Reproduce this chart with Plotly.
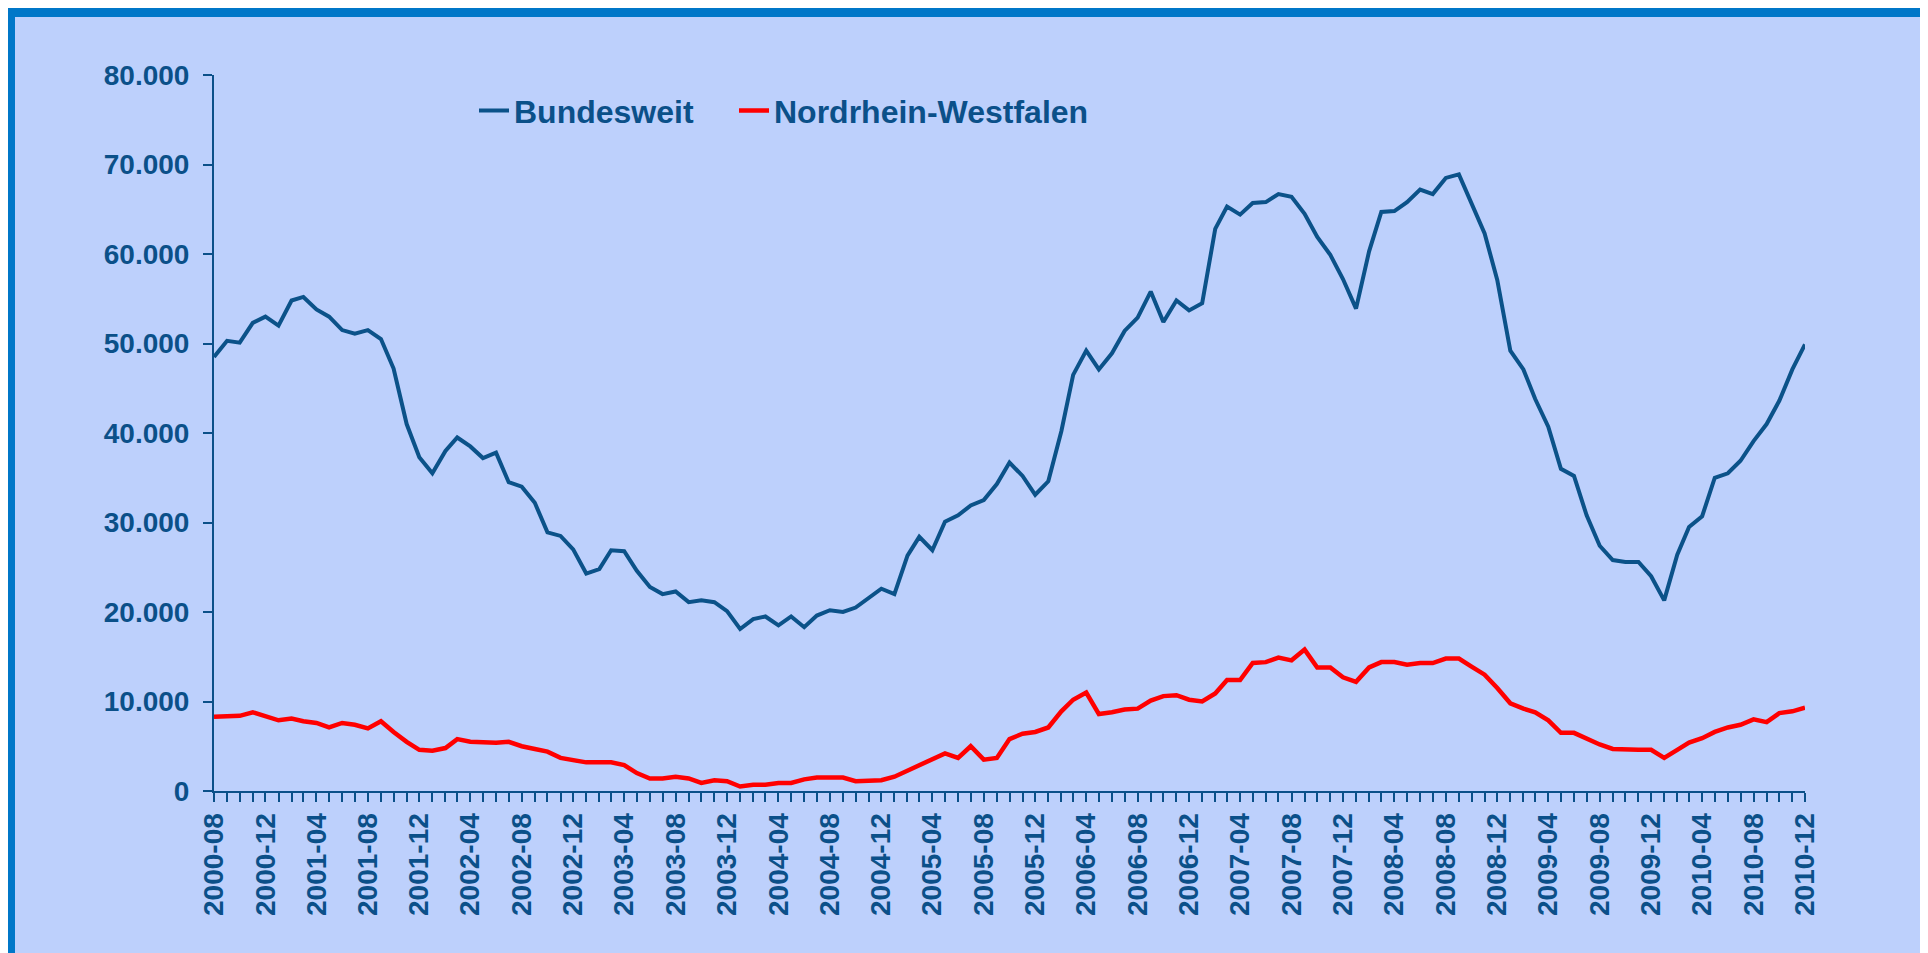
import plotly.graph_objects as go
import pandas as pd

months = pd.date_range("2000-08-01", "2010-12-01", freq="MS")

bundesweit = [
    48.5, 50.3, 50.1, 52.3, 53.0,
    52.0, 54.8, 55.2, 53.8, 53.0, 51.5, 51.1, 51.5, 50.5, 47.2, 41.0, 37.3,
    35.5, 38.0, 39.5, 38.5, 37.2, 37.8, 34.5, 34.0, 32.2, 28.9, 28.5, 27.0,
    24.3, 24.8, 26.9, 26.8, 24.6, 22.8, 22.0, 22.3, 21.1, 21.3, 21.1, 20.1,
    18.1, 19.2, 19.5, 18.5, 19.5, 18.3, 19.6, 20.2, 20.0, 20.5, 21.6, 22.6,
    22.0, 26.3, 28.4, 26.9, 30.1, 30.8, 31.9, 32.5, 34.3, 36.7, 35.2, 33.1,
    34.6, 40.2, 46.5, 49.2, 47.1, 48.9, 51.4, 52.9, 55.8, 52.4, 54.8, 53.7,
    54.5, 62.8, 65.3, 64.4, 65.7, 65.8, 66.7, 66.4, 64.5, 61.9, 59.9, 57.2,
    53.9, 60.3, 64.7, 64.8, 65.8, 67.2, 66.7, 68.5, 68.9, 65.6, 62.3, 57.1,
    49.2, 47.1, 43.8, 40.7, 36.0, 35.2, 30.8, 27.4, 25.8, 25.6, 25.6, 24.0,
    21.3, 26.4, 29.5, 30.7, 35.0, 35.5, 36.9, 39.1, 41.0, 43.6, 47.1, 49.9,
]

nrw = [
    8.3, 8.4, 8.4, 8.8, 8.3,
    7.9, 8.1, 7.8, 7.6, 7.1, 7.6, 7.4, 7.0, 7.8, 6.6, 5.5, 4.6,
    4.5, 4.8, 5.8, 5.5, 5.4, 5.4, 5.5, 5.0, 4.7, 4.4, 3.7, 3.5,
    3.2, 3.2, 3.2, 2.9, 2.0, 1.4, 1.4, 1.6, 1.4, 0.9, 1.2, 1.1,
    0.5, 0.7, 0.7, 0.9, 0.9, 1.3, 1.5, 1.5, 1.5, 1.1, 1.2, 1.2,
    1.6, 2.3, 2.9, 3.5, 4.2, 3.7, 5.0, 3.5, 3.7, 5.8, 6.4, 6.6,
    7.1, 8.9, 10.2, 11.0, 8.6, 8.8, 9.1, 9.2, 10.1, 10.6, 10.7, 10.2,
    10.0, 10.9, 12.4, 12.4, 14.3, 14.4, 14.9, 14.6, 15.8, 13.8, 13.8, 12.7,
    12.2, 13.8, 14.4, 14.4, 14.1, 14.3, 14.3, 14.8, 14.8, 13.9, 13.0, 11.5,
    9.8, 9.2, 8.8, 7.9, 6.5, 6.5, 5.8, 5.2, 4.7, 4.6, 4.6, 4.6,
    3.7, 4.6, 5.4, 5.9, 6.6, 7.1, 7.4, 8.0, 7.7, 8.7, 8.9, 9.3,
]

bundesweit = [v * 1000 for v in bundesweit]
nrw = [v * 1000 for v in nrw]

tick_months = months[::4]
tick_labels = [d.strftime("%Y-%m") for d in tick_months]
y_ticks = [0, 10000, 20000, 30000, 40000, 50000, 60000, 70000, 80000]

W, H = 1928, 953
ML, MR, MT, MB = 206, 131, 67, 170
TXT = "#0B5089"
FONT = "Liberation Sans Narrow, Arial Narrow, Liberation Sans, Arial, sans-serif"

fig = go.Figure()
fig.add_trace(go.Scatter(x=months, y=bundesweit, mode="lines", name="Bundesweit",
                         line=dict(color="#0B5289", width=4), cliponaxis=False,
                         legend="legend"))
fig.add_trace(go.Scatter(x=months, y=nrw, mode="lines", name="Nordrhein-Westfalen",
                         line=dict(color="#FF0000", width=4.5), cliponaxis=False,
                         legend="legend2"))

pw = W - ML - MR
ph = H - MT - MB
def px2x(p):
    return (p - ML) / pw
def py2y(p):
    return (H - MB - p) / ph

shapes = [
    dict(type="rect", xref="paper", yref="paper", x0=px2x(0), x1=px2x(W), y0=py2y(9), y1=py2y(0),
         fillcolor="#0077C8", line=dict(width=0), layer="below"),
    dict(type="rect", xref="paper", yref="paper", x0=px2x(0), x1=px2x(7), y0=py2y(H), y1=py2y(0),
         fillcolor="#0077C8", line=dict(width=0), layer="below"),
]

legend_common = dict(orientation="h", y=0.95, xanchor="left", yanchor="middle",
                     bgcolor="rgba(0,0,0,0)",
                     font=dict(size=32, family=FONT, color=TXT, weight="bold"))

fig.update_layout(
    width=W, height=H,
    margin=dict(l=ML, r=MR, t=MT, b=MB),
    paper_bgcolor="#BDD0FC", plot_bgcolor="#BDD0FC",
    separators=",.",
    font=dict(family=FONT, color=TXT, size=28),
    showlegend=True,
    legend=dict(x=px2x(466), **legend_common),
    legend2=dict(x=px2x(726), **legend_common),
    shapes=shapes,
    xaxis=dict(
        type="date",
        range=[months[0], months[-1]],
        tickmode="array", tickvals=list(tick_months), ticktext=tick_labels,
        tickangle=-90, ticks="outside", ticklen=9, tickwidth=1.5, tickcolor=TXT,
        showline=True, linecolor=TXT, linewidth=2, showgrid=False, zeroline=False,
        tickfont=dict(size=28, family=FONT, color=TXT, weight="bold"),
        minor=dict(dtick="M1", ticks="outside", ticklen=9, tickwidth=1.5, tickcolor=TXT, showgrid=False),
        ticklabelstandoff=0,
    ),
    yaxis=dict(
        range=[0, 80000], tickmode="array", tickvals=y_ticks, tickformat=",d",
        ticks="outside", ticklen=9, tickwidth=1.5, tickcolor=TXT,
        showline=True, linecolor=TXT, linewidth=2, showgrid=False, zeroline=False,
        tickfont=dict(size=28, family=FONT, color=TXT, weight="bold"),
        ticklabelstandoff=8,
    ),
)

fig.write_html("out.html")
